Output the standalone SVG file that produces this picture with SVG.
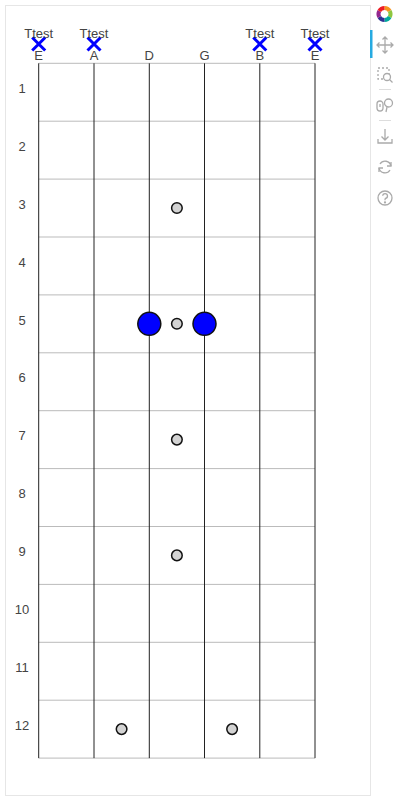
<svg xmlns="http://www.w3.org/2000/svg" width="400" height="800" viewBox="0 0 400 800">
<style>
.t{font-family:"Liberation Sans",Arial,sans-serif;font-size:13px;fill:#444;text-anchor:middle}
.fret{stroke:#bbb;stroke-width:1}
.str{stroke:#222;stroke-width:1}
.dot{fill:#d3d3d3;stroke:#111;stroke-width:1.5}
.note{fill:#0000ff;stroke:#111;stroke-width:1.5}
.x{stroke:#0000ff;stroke-width:3;fill:none}
.ic{stroke:#aaa;stroke-width:1.3;fill:none}
</style>
<rect width="400" height="800" fill="#fff"/>
<rect x="5.5" y="5.5" width="365" height="790" fill="none" stroke="#e6e6e6"/>
<g id="frets">
<line class="fret" x1="38.7" y1="63.3" x2="315" y2="63.3"/>
<line class="fret" x1="38.7" y1="121.2" x2="315" y2="121.2"/>
<line class="fret" x1="38.7" y1="179.1" x2="315" y2="179.1"/>
<line class="fret" x1="38.7" y1="237" x2="315" y2="237"/>
<line class="fret" x1="38.7" y1="294.9" x2="315" y2="294.9"/>
<line class="fret" x1="38.7" y1="352.8" x2="315" y2="352.8"/>
<line class="fret" x1="38.7" y1="410.7" x2="315" y2="410.7"/>
<line class="fret" x1="38.7" y1="468.6" x2="315" y2="468.6"/>
<line class="fret" x1="38.7" y1="526.5" x2="315" y2="526.5"/>
<line class="fret" x1="38.7" y1="584.4" x2="315" y2="584.4"/>
<line class="fret" x1="38.7" y1="642.3" x2="315" y2="642.3"/>
<line class="fret" x1="38.7" y1="700.2" x2="315" y2="700.2"/>
<line class="fret" x1="38.7" y1="758.1" x2="315" y2="758.1"/>
</g>
<g id="strings">
<line class="str" x1="38.7" y1="63.3" x2="38.7" y2="758.1"/>
<line class="str" x1="94" y1="63.3" x2="94" y2="758.1"/>
<line class="str" x1="149.3" y1="63.3" x2="149.3" y2="758.1"/>
<line class="str" x1="204.5" y1="63.3" x2="204.5" y2="758.1"/>
<line class="str" x1="259.8" y1="63.3" x2="259.8" y2="758.1"/>
<line class="str" x1="315" y1="63.3" x2="315" y2="758.1"/>
</g>
<g id="fret-labels">
<text class="t" x="22" y="92.5">1</text>
<text class="t" x="22" y="150.5">2</text>
<text class="t" x="22" y="208.5">3</text>
<text class="t" x="22" y="266.5">4</text>
<text class="t" x="22" y="324.5">5</text>
<text class="t" x="22" y="382">6</text>
<text class="t" x="22" y="440">7</text>
<text class="t" x="22" y="498">8</text>
<text class="t" x="22" y="556">9</text>
<text class="t" x="22" y="614">10</text>
<text class="t" x="22" y="671.5">11</text>
<text class="t" x="22" y="729.5">12</text>
</g>
<g id="string-labels">
<text class="t" x="38.7" y="59.5">E</text>
<text class="t" x="94" y="59.5">A</text>
<text class="t" x="149.3" y="59.5">D</text>
<text class="t" x="204.5" y="59.5">G</text>
<text class="t" x="259.8" y="59.5">B</text>
<text class="t" x="315" y="59.5">E</text>
</g>
<g id="inlays">
<circle class="dot" cx="176.9" cy="208" r="5.3"/>
<circle class="dot" cx="176.9" cy="323.8" r="5.3"/>
<circle class="dot" cx="176.9" cy="439.6" r="5.3"/>
<circle class="dot" cx="176.9" cy="555.4" r="5.3"/>
<circle class="dot" cx="121.6" cy="729.1" r="5.3"/>
<circle class="dot" cx="232.1" cy="729.1" r="5.3"/>
</g>
<g id="notes">
<circle class="note" cx="149.3" cy="323.8" r="11.5"/>
<circle class="note" cx="204.5" cy="323.8" r="11.5"/>
</g>
<g id="muted">
<path class="x" d="M32.2 37.5 L45.2 50.5 M45.2 37.5 L32.2 50.5"/>
<path class="x" d="M87.5 37.5 L100.5 50.5 M100.5 37.5 L87.5 50.5"/>
<path class="x" d="M253.3 37.5 L266.3 50.5 M266.3 37.5 L253.3 50.5"/>
<path class="x" d="M308.5 37.5 L321.5 50.5 M321.5 37.5 L308.5 50.5"/>
<text class="t" x="38.7" y="37.5">Ttest</text>
<text class="t" x="94" y="37.5">Ttest</text>
<text class="t" x="259.8" y="37.5">Ttest</text>
<text class="t" x="315" y="37.5">Ttest</text>
</g>
<g id="toolbar">
<rect x="370" y="30" width="2.5" height="28" fill="#26aae1"/>
<g transform="translate(384.5,14)" stroke-width="4" fill="none">
<path d="M0 -6 A6 6 0 0 1 5.2 -3" stroke="#f7941d"/>
<path d="M5.2 -3 A6 6 0 0 1 5.2 3" stroke="#8dc63f"/>
<path d="M5.2 3 A6 6 0 0 1 0 6" stroke="#00a99d"/>
<path d="M0 6 A6 6 0 0 1 -5.2 3" stroke="#2e3192"/>
<path d="M-5.2 3 A6 6 0 0 1 -5.2 -3" stroke="#92278f"/>
<path d="M-5.2 -3 A6 6 0 0 1 0 -6" stroke="#ed1c24"/>
</g>
<g transform="translate(385,45)" class="ic">
<path d="M0 -8 V8 M-8 0 H8 M-2.5 -5.5 L0 -8 L2.5 -5.5 M-2.5 5.5 L0 8 L2.5 5.5 M-5.5 -2.5 L-8 0 L-5.5 2.5 M5.5 -2.5 L8 0 L5.5 2.5"/>
</g>
<g transform="translate(385,75)" class="ic">
<rect x="-7" y="-7" width="11" height="11" stroke-dasharray="2 2"/>
<circle cx="2" cy="2" r="3.5" fill="#fff"/>
<path d="M4.5 4.5 L7.5 7.5"/>
</g>
<line x1="379" y1="89.5" x2="391" y2="89.5" stroke="#ddd"/>
<g transform="translate(385,105)" class="ic">
<rect x="-8" y="-4" width="6" height="10" rx="3"/>
<path d="M-5 -1 V2"/>
<circle cx="3.5" cy="-2" r="4"/>
<path d="M2 2 L1 7"/>
</g>
<line x1="379" y1="120.5" x2="391" y2="120.5" stroke="#ddd"/>
<g transform="translate(385,137)" class="ic">
<path d="M0 -8 V3 M-3.5 -0.5 L0 3 L3.5 -0.5 M-7 2 V6 H7 V2"/>
</g>
<g transform="translate(385,167)" class="ic">
<path d="M-5 -3 A6 6 0 0 1 6 -1 M5 3 A6 6 0 0 1 -6 1"/>
<path d="M6 -5 V-1 H2 M-6 5 V1 H-2"/>
</g>
<g transform="translate(385,198)" class="ic">
<circle r="7"/>
<path d="M-2.3 -2.2 A2.4 2.4 0 1 1 0.5 0.3 Q0 0.8 0 2.2"/>
<circle cx="0" cy="4.4" r="0.5" fill="#aaa"/>
</g>
</g>
</svg>
